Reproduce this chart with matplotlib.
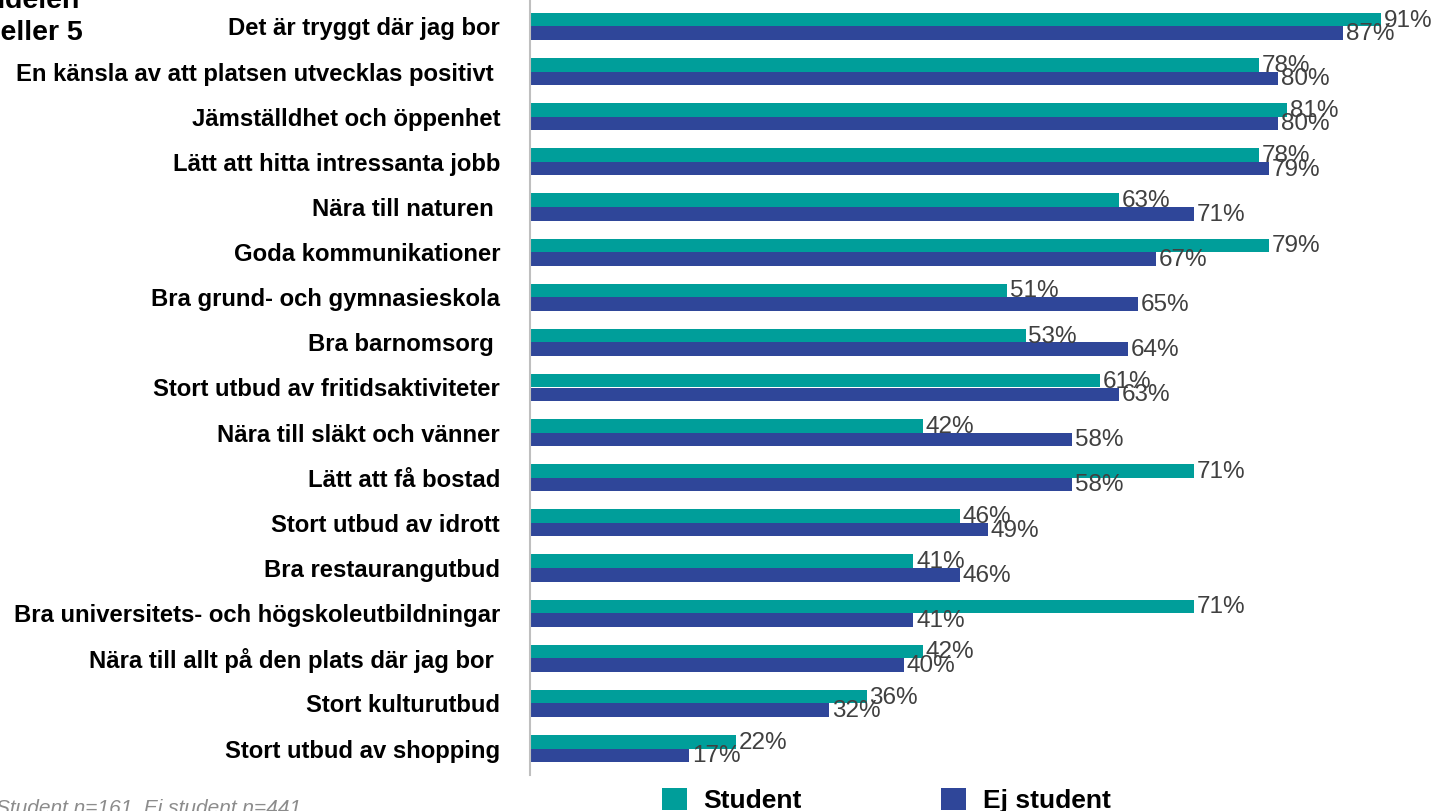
import numpy as np
import matplotlib.pyplot as plt

# --- data ---
categories = [
    'Det är tryggt där jag bor',
    'En känsla av att platsen utvecklas positivt ',
    'Jämställdhet och öppenhet',
    'Lätt att hitta intressanta jobb',
    'Nära till naturen ',
    'Goda kommunikationer',
    'Bra grund- och gymnasieskola',
    'Bra barnomsorg ',
    'Stort utbud av fritidsaktiviteter',
    'Nära till släkt och vänner',
    'Lätt att få bostad',
    'Stort utbud av idrott',
    'Bra restaurangutbud',
    'Bra universitets- och högskoleutbildningar',
    'Nära till allt på den plats där jag bor ',
    'Stort kulturutbud',
    'Stort utbud av shopping',
]
student = [91, 78, 81, 78, 63, 79, 51, 53, 61, 42, 71, 46, 41, 71, 42, 36, 22]
ej_student = [87, 80, 80, 79, 71, 67, 65, 64, 63, 58, 58, 49, 46, 41, 40, 32, 17]
series_names = ['Student', 'Ej student']

teal = '#009E9A'
blue = '#2F4699'

plt.rcParams['font.family'] = ['Liberation Sans', 'DejaVu Sans']

fig = plt.figure(figsize=(14.35, 8.11), dpi=100)
ax = fig.add_axes([530 / 1435, 1 - 775 / 811, 1 - 530 / 1435, 775 / 811])

y = np.arange(len(categories))
h = 0.3
ax.barh(y - h / 2, student, height=h, color=teal, label=series_names[0])
ax.barh(y + h / 2, ej_student, height=h, color=blue, label=series_names[1])

for yi, v in zip(y, student):
    ax.text(v + 0.3, yi - h / 2 + 0.02, f'{v}%', va='center', ha='left', fontsize=17.5, color='#404040')
for yi, v in zip(y, ej_student):
    ax.text(v + 0.3, yi + h / 2 + 0.02, f'{v}%', va='center', ha='left', fontsize=17.5, color='#404040')

ax.set_xlim(0, 96.8)
ax.set_ylim(len(categories) - 1 + 0.587, -0.587)
ax.set_yticks(y)
ax.set_yticklabels(categories, fontsize=17.2, fontweight='bold')
ax.tick_params(axis='y', length=0, pad=21.6)
ax.set_xticks([])
for s in ['top', 'right', 'bottom']:
    ax.spines[s].set_visible(False)
ax.spines['left'].set_color('#BFBFBF')
ax.spines['left'].set_linewidth(1.5)

# partially cut title at top left
fig.text(80 / 1435, 1 - 8 / 811, 'Andelen', ha='right', va='baseline',
         fontsize=20.5, fontweight='bold')
fig.text(83 / 1435, 1 - 40 / 811, 'svarat 4 eller 5', ha='right', va='baseline',
         fontsize=20.5, fontweight='bold')

# footnote
fig.text(-4 / 1435, 1 - 799 / 811, 'Student n=161, Ej student n=441', ha='left', va='top',
         fontsize=15, style='italic', color='#8C8C8C')

# legend
fig.legend(loc='upper left', bbox_to_anchor=(662 / 1435, 1 - 788 / 811), ncol=2, frameon=False,
           prop={'weight': 'bold', 'size': 19}, handlelength=0.93, handleheight=0.93,
           columnspacing=5.3, handletextpad=0.63, borderpad=0, borderaxespad=0)

fig.savefig('out.png', dpi=100)
